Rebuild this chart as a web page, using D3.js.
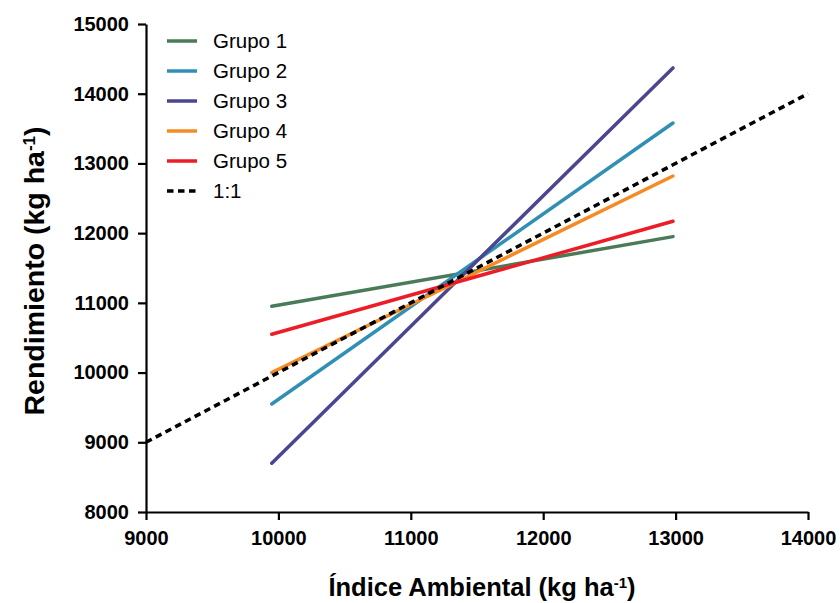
<!DOCTYPE html>
<html>
<head>
    <meta charset="utf-8">
    <title>Rendimiento vs Indice Ambiental</title>
    <style>
        body { margin: 0; background: #fff; }
        svg text { font-family: "Liberation Sans", Arial, sans-serif; }
        .axis text { font-size: 20px; font-weight: bold; fill: #000; }
        .axis path, .axis line { stroke: #000; stroke-width: 2.2px; }
        .title { font-weight: bold; fill: #000; }
        .legend text { font-size: 20.5px; fill: #000; }
    </style>
</head>
<body>
    <svg id="chart" width="840" height="603"></svg>
    <script src="https://d3js.org/d3.v7.min.js"></script>
    <script>
        // data
        var groups = ["Grupo 1", "Grupo 2", "Grupo 3", "Grupo 4", "Grupo 5"];
        var colors = ["#4a7b58", "#2f8fb4", "#4a4790", "#f68b24", "#ec1d27"];
        var xStart = 9950, xEnd = 12980;
        var yStart = [10950, 9550, 8700, 10000, 10550];
        var yEnd = [11950, 13580, 14370, 12820, 12170];
        var oneToOne = [[9000, 9000], [14000, 14000]];
        var xTicks = [9000, 10000, 11000, 12000, 13000, 14000];
        var yTicks = [8000, 9000, 10000, 11000, 12000, 13000, 14000, 15000];

        var svg = d3.select("#chart");
        var mLeft = 146, mRight = 808, mTop = 24, mBottom = 512;

        var x = d3.scaleLinear().domain([9000, 14000]).range([mLeft, mRight]);
        var y = d3.scaleLinear().domain([8000, 15000]).range([mBottom, mTop]);

        svg.append("g")
            .attr("class", "axis")
            .attr("transform", "translate(0," + mBottom + ")")
            .call(d3.axisBottom(x).tickValues(xTicks).tickFormat(d3.format("d")).tickSize(8).tickSizeOuter(0).tickPadding(11));

        svg.append("g")
            .attr("class", "axis")
            .attr("transform", "translate(" + mLeft + ",0)")
            .call(d3.axisLeft(y).tickValues(yTicks).tickFormat(d3.format("d")).tickSize(8).tickSizeOuter(0).tickPadding(9));

        var line = d3.line().x(d => x(d[0])).y(d => y(d[1]));

        var series = groups.map((g, i) => ({
            name: g,
            color: colors[i],
            pts: [[xStart, yStart[i]], [xEnd, yEnd[i]]]
        }));

        svg.append("g")
            .selectAll("path")
            .data(series)
            .join("path")
            .attr("d", d => line(d.pts))
            .attr("fill", "none")
            .attr("stroke", d => d.color)
            .attr("stroke-width", 3.5)
            .attr("stroke-linecap", "round");

        svg.append("path")
            .attr("d", line(oneToOne))
            .attr("fill", "none")
            .attr("stroke", "#000")
            .attr("stroke-width", 3.5)
            .attr("stroke-dasharray", "6.5,4.5");

        // legend
        var legendItems = series.map(s => ({ name: s.name, color: s.color, dash: null }))
            .concat([{ name: "1:1", color: "#000", dash: "6.5,4.5" }]);
        var legend = svg.append("g").attr("class", "legend");
        var li = legend.selectAll("g")
            .data(legendItems)
            .join("g")
            .attr("transform", (d, i) => "translate(167," + (41 + i * 30) + ")");
        li.append("line")
            .attr("x1", 0).attr("x2", 30)
            .attr("stroke", d => d.color)
            .attr("stroke-width", 3.5)
            .attr("stroke-dasharray", d => d.dash);
        li.append("text")
            .attr("x", 46)
            .attr("dy", "0.36em")
            .text(d => d.name);

        // axis titles
        var yt = svg.append("text")
            .attr("class", "title")
            .attr("transform", "translate(44,271) rotate(-90)")
            .attr("text-anchor", "middle")
            .style("font-size", "28.5px");
        yt.append("tspan").text("Rendimiento (kg ha");
        yt.append("tspan").attr("baseline-shift", "super").style("font-size", "17px").text("-1");
        yt.append("tspan").text(")");

        var xt = svg.append("text")
            .attr("class", "title")
            .attr("x", 482)
            .attr("y", 596)
            .attr("text-anchor", "middle")
            .style("font-size", "25.5px");
        xt.append("tspan").text("Índice Ambiental (kg ha");
        xt.append("tspan").attr("baseline-shift", "super").style("font-size", "15px").text("-1");
        xt.append("tspan").text(")");
    </script>
</body>
</html>
